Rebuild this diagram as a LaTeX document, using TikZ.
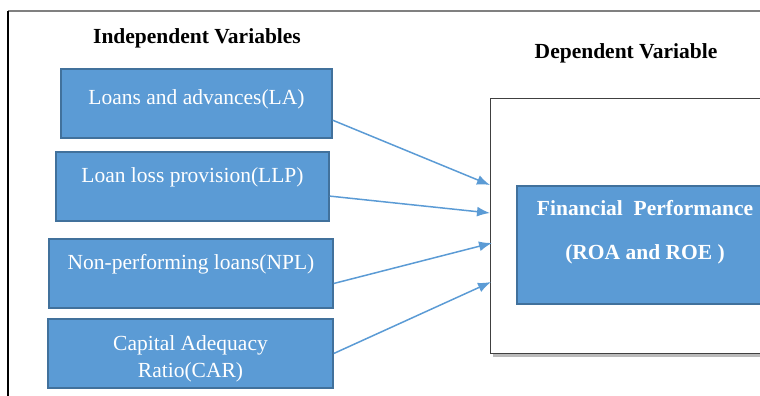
\documentclass[tikz,border=0pt]{standalone}
\usepackage{fontspec}
\setmainfont{Liberation Serif}
\usetikzlibrary{arrows.meta,shadows}
\definecolor{boxblue}{HTML}{5B9BD5}
\definecolor{boxline}{HTML}{41719C}

\begin{document}
\begin{tikzpicture}[x=1pt,y=-1pt,
  every node/.style={font=\fontsize{21.5pt}{27pt}\selectfont},
  title/.style={font=\fontsize{21.5pt}{27pt}\selectfont\bfseries},
  varbox/.style={draw=boxline, fill=boxblue, line width=1.5pt, text=white, minimum height=69pt, inner sep=0pt},
  link/.style={boxblue, line width=1.5pt, -{Latex[length=13pt,width=10pt]}}]
\clip (0,0) rectangle (760,396);

\draw[black!50, line width=1.5pt] (8,11) -- (770,11);
\draw[black, line width=1.2pt] (8,11) -- (8,400);

\node[title] (indep) at (197,38) {Independent Variables};
\node[title] (dep) at (626,53) {Dependent Variable};

\node[varbox, minimum width=271pt, text height=16pt, text depth=15pt] (la) at (196.5,103.5) {Loans and advances(LA)};
\node[varbox, minimum width=273pt, text height=16pt, text depth=25pt] (llp) at (192.5,186.5) {Loan loss provision(LLP)};
\node[varbox, minimum width=284pt, text height=16pt, text depth=25pt] (npl) at (191,273.5) {Non-performing loans(NPL)};
\node[varbox, minimum width=285pt, align=center, text height=52pt] (car) at (190.5,353.5) {Capital Adequacy\\Ratio(CAR)};

\node[draw=black!75, fill=white, line width=1pt, minimum width=310pt, minimum height=255pt,
  drop shadow={shadow xshift=3pt, shadow yshift=-4pt, opacity=0.6, fill=black!45}] (frame) at (645,225.5) {};
\node[varbox, minimum width=256pt, minimum height=118pt, align=center, text depth=31pt,
  font=\fontsize{21.5pt}{27pt}\selectfont\bfseries] (perf) at (645,245) {Financial\ \ Performance\\[17pt](ROA and ROE )};

\coordinate (in1) at (490,185);
\coordinate (in2) at (490,213);
\coordinate (in3) at (492,243);
\coordinate (in4) at (491,282);

\draw[link] (la.-7) -- (in1);
\draw[link] (llp.-4) -- (in2);
\draw[link] (npl.-4) -- (in3);
\draw[link] (car.east) -- (in4);
\end{tikzpicture}
\end{document}
